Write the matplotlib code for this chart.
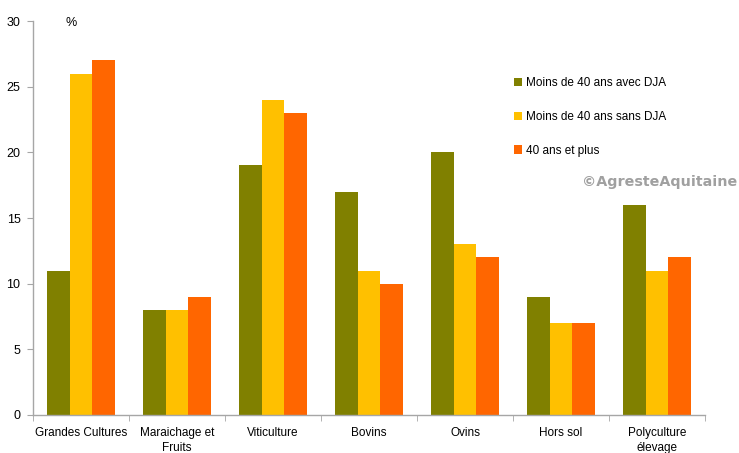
import matplotlib.pyplot as plt
import numpy as np

plt.rcParams['font.family'] = ['Liberation Sans', 'DejaVu Sans']

categories = ['Grandes Cultures', 'Maraichage et\nFruits', 'Viticulture', 'Bovins',
              'Ovins', 'Hors sol', 'Polyculture\nélevage']
avec_dja = [11, 8, 19, 17, 20, 9, 16]
sans_dja = [26, 8, 24, 11, 13, 7, 11]
plus_40 = [27, 9, 23, 10, 12, 7, 12]

series = [
    ('Moins de 40 ans avec DJA', avec_dja, '#808000'),
    ('Moins de 40 ans sans DJA', sans_dja, '#FFC000'),
    ('40 ans et plus', plus_40, '#FF6600'),
]

fig = plt.figure(figsize=(7.39, 4.53), dpi=100)
ax = fig.add_axes([0.0447, 0.0839, 0.9093, 0.8697])

x = np.arange(len(categories))
w = 0.237
for i, (name, vals, col) in enumerate(series):
    ax.bar(x + (i - 1) * w, vals, w, color=col, label=name)

ax.set_xlim(-0.5, len(categories) - 0.5)
ax.set_ylim(0, 30)
ax.set_yticks(range(0, 31, 5))
ax.set_xticks(x)
ax.set_xticklabels(categories, fontsize=8.5, linespacing=1.25)
ax.set_xticks(np.arange(-0.5, len(categories)), minor=True)
ax.tick_params(axis='x', which='major', length=0, pad=9)
ax.tick_params(axis='x', which='minor', length=4, color='#A6A6A6')
ax.tick_params(axis='y', length=4, color='#A6A6A6', labelsize=9, pad=5)

for s in ['top', 'right']:
    ax.spines[s].set_visible(False)
for s in ['left', 'bottom']:
    ax.spines[s].set_color('#A6A6A6')
    ax.spines[s].set_linewidth(1)

ax.text(0.049, 0.995, '%', transform=ax.transAxes, fontsize=9, va='center')

ax.legend(loc='upper left', bbox_to_anchor=(0.7, 0.885), frameon=False, fontsize=8.5,
          handlelength=0.7, handleheight=0.7, handletextpad=0.3, labelspacing=1.85)

fig.text(0.787, 0.598, '©AgresteAquitaine', fontsize=10.3, fontweight='bold',
         color='#A0A0A0', family='DejaVu Sans', va='center')

fig.savefig('out.png', dpi=100)
